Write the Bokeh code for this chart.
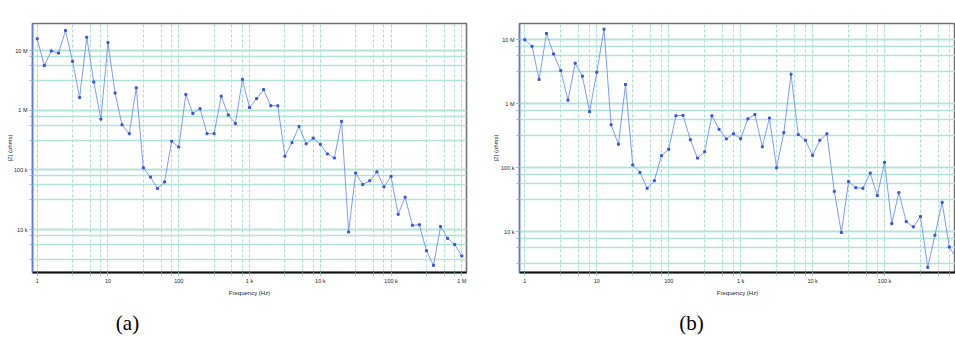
from bokeh.plotting import figure
from bokeh.models import FixedTicker, Label, Range1d
from bokeh.layouts import row, column
from bokeh.embed import file_html
from bokeh.resources import INLINE

# ---------------- data ----------------
freq_hz = [1, 1.26, 1.58, 2.0, 2.51, 3.16, 3.98, 5.01, 6.31, 7.94,
           10, 12.6, 15.8, 20.0, 25.1, 31.6, 39.8, 50.1, 63.1, 79.4,
           100, 126, 158, 200, 251, 316, 398, 501, 631, 794,
           1e3, 1.26e3, 1.58e3, 2.0e3, 2.51e3, 3.16e3, 3.98e3, 5.01e3, 6.31e3, 7.94e3,
           1e4, 1.26e4, 1.58e4, 2.0e4, 2.51e4, 3.16e4, 3.98e4, 5.01e4, 6.31e4, 7.94e4,
           1e5, 1.26e5, 1.58e5, 2.0e5, 2.51e5, 3.16e5, 3.98e5, 5.01e5, 6.31e5, 7.94e5,
           1e6]

z_a_ohms = [16e6, 5.7e6, 10e6, 9.2e6, 22e6, 6.7e6, 1.65e6, 17e6, 3.0e6, 716e3,
            13.8e6, 1.96e6, 575e3, 407e3, 2.4e6, 109e3, 76e3, 49e3, 63e3, 304e3,
            243e3, 1.86e6, 890e3, 1.07e6, 407e3, 407e3, 1.74e6, 840e3, 605e3, 3.3e6,
            1.12e6, 1.58e6, 2.24e6, 1.2e6, 1.2e6, 170e3, 288e3, 537e3, 275e3, 343e3,
            270e3, 186e3, 159e3, 658e3, 9.1e3, 89e3, 57e3, 66e3, 93e3, 52e3,
            78e3, 18e3, 35e3, 11.8e3, 12e3, 4.4e3, 2.5e3, 11.2e3, 7.1e3, 5.6e3,
            3.6e3]

z_b_ohms = [10e6, 7.9e6, 2.4e6, 12.5e6, 6.0e6, 3.3e6, 1.14e6, 4.3e6, 2.7e6, 750e3,
            3.1e6, 14.6e6, 470e3, 234e3, 2.0e6, 111e3, 85e3, 48e3, 63e3, 155e3,
            195e3, 650e3, 660e3, 275e3, 142e3, 178e3, 650e3, 400e3, 283e3, 340e3,
            285e3, 582e3, 680e3, 213e3, 600e3, 100e3, 354e3, 2.9e6, 330e3, 270e3,
            157e3, 270e3, 340e3, 43e3, 9.8e3, 61e3, 49e3, 48e3, 83e3, 37e3,
            122e3, 13.5e3, 41e3, 14.5e3, 12e3, 17.4e3, 2.8e3, 8.9e3, 29e3, 5.8e3,
            3.9e3]

x_tick_labels = {1: "1", 10: "10", 100: "100", 1000: "1 k", 10000: "10 k",
                 100000: "100 k", 1000000: "1 M"}
y_tick_labels = {10000: "10 k", 100000: "100 k", 1000000: "1 M", 10000000: "10 M"}
x_label = "Frequency (Hz)"
y_label = "|Z| (ohms)"
captions = ["(a)", "(b)"]

# ---------------- styling ----------------
GRID_X = "#a8ded0"
GRID_Y = "#b0e3d5"
LINE = "#7090f0"
MARK = "#3454e0"
TICK = "#8cbdb5"

decades = [10 ** e for e in range(-1, 9)]
minor_pos = []
for d in decades:
    for m in (3.1623, 5.6234, 7.9433):
        minor_pos.append(d * m)


def make_panel(z, width, height, xr, yr, mb_left, mb_right, mb_top, mb_bottom,
               ylab_standoff):
    p = figure(width=width, height=height, x_axis_type="log", y_axis_type="log",
               x_range=Range1d(*xr), y_range=Range1d(*yr),
               output_backend="svg", toolbar_location=None,
               min_border_left=mb_left, min_border_right=mb_right,
               min_border_top=mb_top, min_border_bottom=mb_bottom)
    p.outline_line_color = "#707070"
    p.outline_line_width = 1.5
    p.background_fill_color = "white"
    p.border_fill_color = "white"

    p.xaxis.ticker = FixedTicker(ticks=list(x_tick_labels.keys()),
                                 minor_ticks=minor_pos + decades)
    p.yaxis.ticker = FixedTicker(ticks=list(y_tick_labels.keys()),
                                 minor_ticks=minor_pos + decades)
    p.xaxis.major_label_overrides = dict(x_tick_labels)
    p.yaxis.major_label_overrides = dict(y_tick_labels)

    for ax in (p.xaxis, p.yaxis):
        ax.major_label_text_font = "Liberation Sans"
        ax.major_label_text_font_size = "5.5px"
        ax.major_label_text_color = "#222222"
        ax.major_label_standoff = 2
        ax.major_tick_in = 0
        ax.major_tick_out = 3
        ax.minor_tick_in = 0
        ax.minor_tick_out = 3
        ax.major_tick_line_color = TICK
        ax.minor_tick_line_color = TICK
        ax.axis_label_text_font = "Liberation Sans"
        ax.axis_label_text_font_size = "6px"
        ax.axis_label_text_font_style = "normal"
        ax.axis_label_text_color = "#222222"
    p.xaxis.axis_label = x_label
    p.xaxis.axis_label_standoff = 3
    p.yaxis.axis_label = y_label
    p.yaxis.axis_label_standoff = ylab_standoff
    p.xaxis.axis_line_color = "#111111"
    p.xaxis.axis_line_width = 2
    p.yaxis.axis_line_color = "#5a78e6"
    p.yaxis.axis_line_width = 1.5

    p.xgrid.grid_line_color = GRID_X
    p.xgrid.grid_line_dash = "3 2"
    p.xgrid.minor_grid_line_color = GRID_X
    p.xgrid.minor_grid_line_dash = "3 2"
    p.ygrid.grid_line_color = GRID_Y
    p.ygrid.grid_line_width = 1.5
    p.ygrid.minor_grid_line_color = GRID_Y
    p.ygrid.minor_grid_line_width = 1.5

    p.line(freq_hz, z, line_color=LINE, line_width=0.9)
    p.scatter(freq_hz, z, marker="square", size=2, color=MARK)
    return p


MAIN_H = 305
pa = make_panel(z_a_ohms, 490, MAIN_H,
                (10 ** -0.0664, 10 ** 6.066), (10 ** 3.278, 10 ** 7.461),
                32, 24, 6, MAIN_H - 272, -2)
pb = make_panel(z_b_ohms, 465, MAIN_H,
                (10 ** -0.074, 10 ** 5.986), (10 ** 3.367, 10 ** 7.253),
                29, 0, 23, MAIN_H - 273, -1)

# caption strip below the two panels
STRIP_H = 337 - MAIN_H
strip = figure(width=955, height=STRIP_H, x_range=Range1d(0, 955),
               y_range=Range1d(STRIP_H, 0), output_backend="svg",
               toolbar_location=None, min_border=0,
               x_axis_location=None, y_axis_location=None)
strip.grid.visible = False
strip.outline_line_color = None
strip.background_fill_color = "white"
strip.border_fill_color = "white"
for cx, cap in zip((127, 691), captions):
    strip.add_layout(Label(x=cx, y=17, text=cap, text_align="center",
                           text_baseline="middle", text_font="Liberation Serif",
                           text_font_size="21px", text_color="#000000"))

layout = column(row(pa, pb), strip)
open("out.html", "w").write(file_html(layout, INLINE))
